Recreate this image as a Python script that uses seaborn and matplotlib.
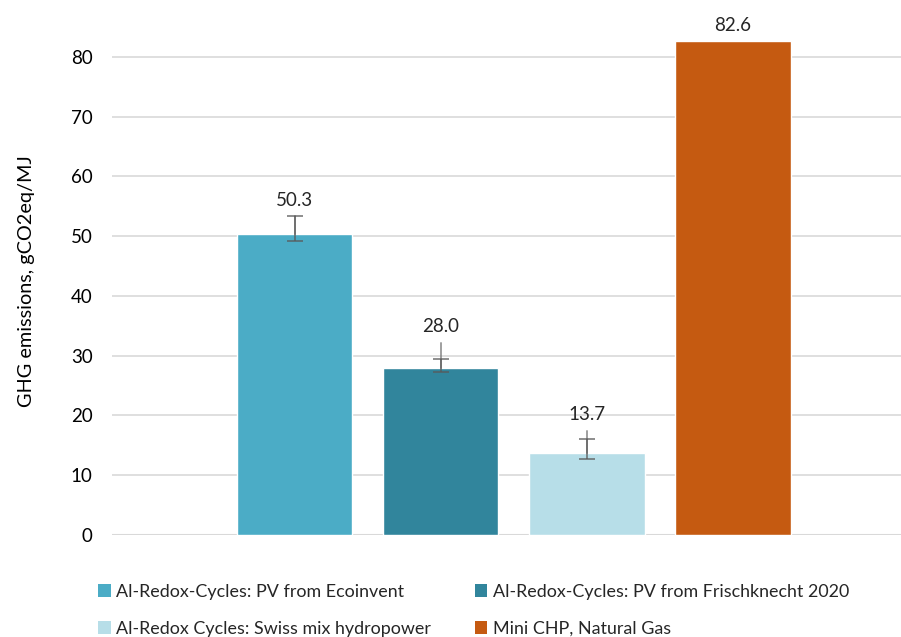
import numpy as np
import pandas as pd
import matplotlib
matplotlib.use('Agg')
import matplotlib.pyplot as plt
import seaborn as sns
from matplotlib.patches import Patch

# ---------------- datos ----------------
series = ['Al-Redox-Cycles: PV from Ecoinvent',
          'Al-Redox-Cycles: PV from Frischknecht 2020',
          'Al-Redox Cycles: Swiss mix hydropower',
          'Mini CHP, Natural Gas']
valores = [50.3, 28.0, 13.7, 82.6]
err_bajo = [49.2, 27.3, 12.8, np.nan]      # extremo inferior (con tope)
err_alto = [53.3, 29.5, 16.1, np.nan]      # extremo superior (con tope)
err_extra = [53.3, 32.1, 17.4, np.nan]     # linea sin tope
colores = ['#4BACC6', '#31859C', '#B7DEE8', '#C55A11']

df = pd.DataFrame({'serie': series, 'valor': valores})

# ---------------- estilo ----------------
sns.set_theme(style='white')
plt.rcParams['font.family'] = ['Lato', 'DejaVu Sans']

fig = plt.figure(figsize=(9.01, 6.37), dpi=100)
ax = fig.add_axes([112 / 901, 102 / 637, 789 / 901, 508 / 637])

sns.barplot(data=df, x='serie', y='valor', hue='serie', order=series,
            hue_order=series, palette=colores, width=0.79, legend=False,
            saturation=1, ax=ax, zorder=2)

ax.set_xlim(-1.25, 4.15)
ax.set_ylim(0, 85)
ax.set_yticks(range(0, 81, 10))
ax.yaxis.grid(True, color='#D9D9D9', linewidth=1.2, zorder=0)
ax.set_axisbelow(True)
for s in ['top', 'right', 'left', 'bottom']:
    ax.spines[s].set_visible(False)
ax.axhline(0, color='#D9D9D9', linewidth=1.5, zorder=1)
ax.set_xticks([])
ax.set_xlabel('')
ax.set_ylabel('GHG emissions, gCO2eq/MJ', fontsize=14.3, color='black', labelpad=26)
ax.tick_params(axis='y', labelsize=13.5, colors='black', length=0, pad=14)

# barras de error y etiquetas
centros = [p.get_x() + p.get_width() / 2 for p in ax.patches[:len(series)]]
for xc, v, lo, hi, ex in zip(centros, valores, err_bajo, err_alto, err_extra):
    if not np.isnan(ex):
        ax.plot([xc, xc], [v, ex], color='#7F7F7F', alpha=0.75, lw=1.4, zorder=3)
        ax.errorbar(xc, v, yerr=[[v - lo], [hi - v]], fmt='none', ecolor='#595959',
                    elinewidth=1.2, capsize=6, capthick=1.2, alpha=0.8, zorder=4)
        top = ex
    else:
        top = v
    ax.text(xc, top + 1.3, f'{v:.1f}', ha='center', va='bottom', fontsize=13.5)

# leyenda
h = [Patch(facecolor=c, edgecolor='none') for c in colores]
orden = [0, 2, 1, 3]
fig.legend([h[i] for i in orden], [series[i] for i in orden],
           loc='upper left', bbox_to_anchor=(98 / 901, 1 - 584 / 637), ncol=2,
           frameon=False, fontsize=12.9, handlelength=0.7, handleheight=0.7,
           handletextpad=0.3, labelspacing=1.15, columnspacing=2.45,
           borderpad=0, borderaxespad=0)

fig.savefig('out.png', dpi=100)
